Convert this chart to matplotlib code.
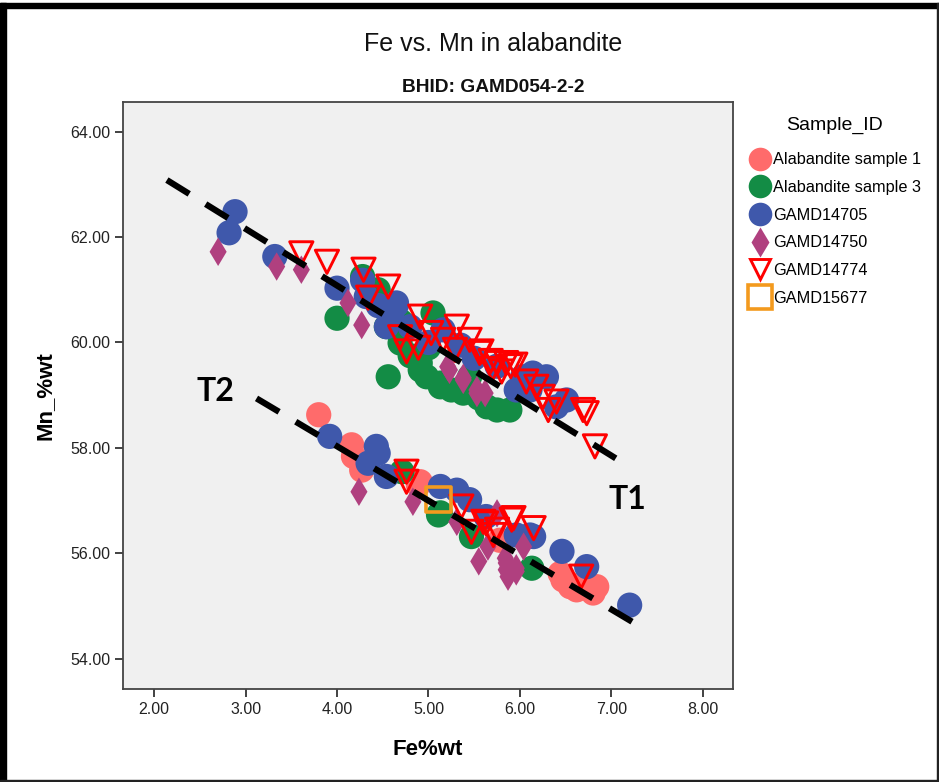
import matplotlib
matplotlib.use("Agg")
import matplotlib.pyplot as plt
from matplotlib.lines import Line2D
from matplotlib.patches import Rectangle

# ---- data: Fe%wt (x) and Mn_%wt (y) per sample ----
sample1_fe = [3.80, 4.16, 4.18, 4.27, 4.89, 4.91, 5.78, 6.44, 6.47, 6.55, 6.62, 6.70, 6.80, 6.84]
sample1_mn = [58.63, 58.06, 57.84, 57.58, 57.30, 57.36, 56.25, 55.62, 55.50, 55.37, 55.31, 55.45, 55.25, 55.37]

sample3_fe = [4.00, 4.28, 4.45, 4.54, 4.69, 4.70, 4.80, 4.91, 4.91, 4.98, 5.00, 5.05, 5.13, 5.13,
              5.25, 5.38, 5.45, 5.55, 5.64, 5.75, 5.89, 4.56,
              4.71, 5.11, 5.13, 5.47, 6.13]
sample3_mn = [60.46, 61.25, 61.00, 60.30, 59.99, 60.40, 59.75, 59.61, 59.48, 59.35, 59.90, 60.56, 59.23, 59.16,
              59.10, 59.04, 59.35, 58.95, 58.78, 58.72, 58.72, 59.35,
              57.55, 56.73, 56.77, 56.32, 55.72]

g14705_fe = [2.885, 2.82, 3.32, 4.00, 4.28, 4.32, 4.45, 4.65, 4.65, 4.54, 4.60, 4.80, 5.16, 5.00,
             5.35, 5.50, 5.75, 5.96, 6.03, 6.11, 6.14, 6.29, 6.40, 6.51,
             3.92, 4.43, 4.45, 4.34, 4.54, 5.13, 5.31, 5.45, 5.63, 5.96, 6.11, 6.15, 6.46, 6.73, 7.20]
g14705_mn = [62.48, 62.08, 61.63, 61.03, 61.18, 60.87, 60.70, 60.75, 60.71, 60.30, 60.45, 60.30, 60.24, 60.00,
             59.95, 59.70, 59.55, 59.10, 59.35, 59.10, 59.42, 59.35, 58.78, 58.91,
             58.22, 58.03, 57.90, 57.71, 57.46, 57.27, 57.20, 57.02, 56.70, 56.35, 56.35, 56.32, 56.04, 55.75, 55.02]

g14750_fe = [2.70, 3.34, 3.61, 4.12, 4.27, 5.21, 5.23, 5.38, 5.38, 5.53, 5.53, 5.62,
             4.24, 4.83, 5.31, 5.55, 5.65, 5.75, 5.84, 5.85, 5.85, 5.87, 5.96, 5.96, 6.04]
g14750_mn = [61.72, 61.44, 61.38, 60.75, 60.33, 59.54, 59.48, 59.29, 59.33, 59.10, 59.04, 59.04,
             57.17, 56.98, 56.60, 55.85, 56.13, 56.76, 55.91, 55.82, 55.69, 55.56, 55.72, 55.66, 56.13]

g14774_fe = [3.61, 3.89, 4.29, 4.56, 4.34, 4.91, 4.69, 4.76, 4.89, 5.03, 5.31, 5.16, 5.45, 5.29,
             5.56, 5.58, 5.75, 5.85, 5.95, 5.70, 5.80, 5.90, 5.68, 6.07, 6.18, 6.25, 6.40, 6.31,
             6.69, 6.73, 6.82,
             4.76, 4.76, 5.36, 5.47, 5.60, 5.71, 5.75, 5.93, 6.15, 5.91, 5.63, 6.67]
g14774_mn = [61.69, 61.53, 61.38, 61.06, 60.85, 60.49, 60.10, 59.83, 59.90, 60.18, 60.30, 60.05, 60.05, 59.86,
             59.80, 59.83, 59.61, 59.61, 59.58, 59.50, 59.45, 59.55, 59.65, 59.26, 59.16, 58.97, 58.88, 58.72,
             58.72, 58.66, 58.03,
             57.55, 57.36, 56.89, 56.41, 56.60, 56.35, 56.45, 56.67, 56.48, 56.64, 56.57, 55.56]

g15677_fe = [5.11]
g15677_mn = [57.02]

# trend lines (x start/end, y start/end)
t1_fe = [2.14, 7.20]
t1_mn = [63.08, 57.64]
t2_fe = [3.12, 7.29]
t2_mn = [58.94, 54.64]

x_ticks = [2.0, 3.0, 4.0, 5.0, 6.0, 7.0, 8.0]
y_ticks = [54.0, 56.0, 58.0, 60.0, 62.0, 64.0]

W, H = 939, 782
fig = plt.figure(figsize=(W / 100, H / 100), dpi=100)
fig.patch.set_facecolor("white")

base_font = ["Liberation Sans Narrow", "Liberation Sans", "DejaVu Sans"]

ax = fig.add_axes([123 / W, 1 - 689 / H, (733 - 123) / W, (689 - 102) / H])
ax.set_facecolor("#f0f0f0")
ax.set_xlim(1.66, 8.33)
ax.set_ylim(53.43, 64.56)

circle_s = 330
colors = ["#ff6b6b", "#138c45", "#3f58ab", "#b0407f", "#ff0000", "#f39a1e"]
series = [
    ("Alabandite sample 1", sample1_fe, sample1_mn, dict(marker="o", s=circle_s, c=colors[0], edgecolors="none")),
    ("Alabandite sample 3", sample3_fe, sample3_mn, dict(marker="o", s=circle_s, c=colors[1], edgecolors="none")),
    ("GAMD14705", g14705_fe, g14705_mn, dict(marker="o", s=circle_s, c=colors[2], edgecolors="none")),
    ("GAMD14750", g14750_fe, g14750_mn, dict(marker="d", s=210, c=colors[3], edgecolors="none")),
    ("GAMD14774", g14774_fe, g14774_mn, dict(marker="v", s=280, facecolors="none", edgecolors=colors[4], linewidths=2.1)),
    ("GAMD15677", g15677_fe, g15677_mn, dict(marker="s", s=310, facecolors="none", edgecolors=colors[5], linewidths=2.6)),
]
for name, xs, ys, kw in series:
    ax.scatter(xs, ys, label=name, zorder=3, **kw)

for xs, ys in [(t1_fe, t1_mn), (t2_fe, t2_mn)]:
    ax.plot(xs, ys, color="black", lw=4.5, dashes=(4.2, 3.1), solid_capstyle="butt",
            dash_capstyle="butt", zorder=5)

ax.text(7.18, 57.02, "T1", fontsize=23, fontweight="bold", family=["Lato", "DejaVu Sans"],
        ha="center", va="center", zorder=6)
ax.text(2.67, 59.07, "T2", fontsize=23, fontweight="bold", family=["Lato", "DejaVu Sans"],
        ha="center", va="center", zorder=6)

ax.set_xticks(x_ticks)
ax.set_yticks(y_ticks)
ax.set_xticklabels([f"{v:.2f}" for v in x_ticks], family=base_font, fontsize=11.5, color="#222222")
ax.set_yticklabels([f"{v:.2f}" for v in y_ticks], family=base_font, fontsize=11.5, color="#222222")
ax.tick_params(direction="out", length=6, width=1.3, color="#333333", pad=3)
for sp in ax.spines.values():
    sp.set_color("#444444")
    sp.set_linewidth(1.3)

ax.set_xlabel("Fe%wt", family=base_font, fontsize=16, fontweight="bold", labelpad=16)
ax.set_ylabel("Mn_%wt", family=base_font, fontsize=16, fontweight="bold", labelpad=11)

fig.text(493 / W, 1 - 44 / H, "Fe vs. Mn in alabandite", family=base_font, fontsize=18,
         ha="center", va="center", color="#111111")
fig.text(493 / W, 1 - 87 / H, "BHID: GAMD054-2-2", family=base_font, fontsize=13.8,
         fontweight="bold", ha="center", va="center", color="#111111")

# legend
handles = [
    Line2D([], [], ls="none", marker="o", markersize=17, markerfacecolor=colors[0], markeredgecolor="none"),
    Line2D([], [], ls="none", marker="o", markersize=17, markerfacecolor=colors[1], markeredgecolor="none"),
    Line2D([], [], ls="none", marker="o", markersize=17, markerfacecolor=colors[2], markeredgecolor="none"),
    Line2D([], [], ls="none", marker="d", markersize=15, markerfacecolor=colors[3], markeredgecolor="none"),
    Line2D([], [], ls="none", marker="v", markersize=15, markerfacecolor="none", markeredgecolor=colors[4], markeredgewidth=2.1),
    Line2D([], [], ls="none", marker="s", markersize=17, markerfacecolor="none", markeredgecolor=colors[5], markeredgewidth=2.6),
]
labels = [s[0] for s in series]
leg = fig.legend(handles, labels, title="Sample_ID", loc="upper left",
                 bbox_to_anchor=(748 / W, 1 - 117 / H), frameon=False,
                 prop={"family": base_font, "size": 11.7},
                 title_fontproperties={"family": base_font, "size": 14},
                 handletextpad=0.05, labelspacing=0.78, handlelength=1.5, borderaxespad=0,
                 borderpad=0)
leg._legend_box.sep = 13

# outer frame
fig.patches.append(Rectangle((0, 1 - 8 / H), 1, 5 / H, transform=fig.transFigure, color="black", zorder=10))
fig.patches.append(Rectangle((0, 0), 6 / W, 1 - 3 / H, transform=fig.transFigure, color="black", zorder=10))
fig.patches.append(Rectangle((1 - 2 / W, 0), 2 / W, 1 - 3 / H, transform=fig.transFigure, color="#222222", zorder=10))
fig.patches.append(Rectangle((0, 0), 1, 2 / H, transform=fig.transFigure, color="#222222", zorder=10))

fig.savefig("out.png", dpi=100, facecolor="white")
